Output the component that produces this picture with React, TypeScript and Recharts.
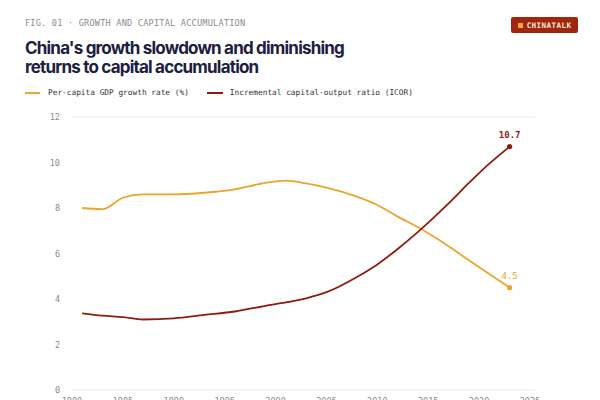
import React from 'react';
import { LineChart, Line, XAxis, YAxis, CartesianGrid, LabelList } from 'recharts';

const years = [1981, 1983, 1985, 1987, 1990, 1993, 1996, 1999, 2001, 2003, 2005, 2008, 2010, 2012, 2014, 2017, 2019, 2021, 2023];
const growthRate = [8.0, 7.95, 8.45, 8.6, 8.6, 8.67, 8.82, 9.1, 9.2, 9.08, 8.9, 8.5, 8.13, 7.62, 7.15, 6.32, 5.7, 5.1, 4.5];
const icor = [3.37, 3.27, 3.2, 3.1, 3.15, 3.3, 3.45, 3.7, 3.85, 4.03, 4.3, 4.97, 5.52, 6.2, 6.95, 8.2, 9.1, 9.95, 10.7];
const xTicks = [1980, 1985, 1990, 1995, 2000, 2005, 2010, 2015, 2020, 2025];
const yTicks = [0, 2, 4, 6, 8, 10, 12];

const ORANGE = '#eca42c';
const RED = '#8f1c10';
const MONO = '"DejaVu Sans Mono", "Liberation Mono", monospace';

const data = years.map((y, i) => ({ year: y, growth: growthRate[i], icor: icor[i] }));
const lastIdx = data.length - 1;

const EndDot = (color: string) => (props: any) => {
  if (props.index !== lastIdx) return <g key={props.index} />;
  return <circle key={props.index} cx={props.cx} cy={props.cy} r={2.6} fill={color} stroke="none" />;
};

const EndLabel = (color: string, bold: boolean) => (props: any) => {
  if (props.index !== lastIdx) return null;
  return (
    <text x={props.x} y={props.y - 9} textAnchor="middle" fill={color} fontFamily={MONO} fontSize={9} fontWeight={bold ? 700 : 400}>
      {props.value}
    </text>
  );
};

const tickStyle = { fill: '#8a8a8a', fontSize: 8.5, fontFamily: MONO };

export default function App() {
  return (
    <div style={{ position: 'fixed', left: 0, top: 0, width: 600, height: 400, background: '#fff', overflow: 'hidden' }}>
      <div style={{ position: 'absolute', left: 25, top: 18, fontFamily: MONO, fontSize: 8.6, color: '#8c8c8c', letterSpacing: 0.2, whiteSpace: 'nowrap' }}>
        FIG. 01 · GROWTH AND CAPITAL ACCUMULATION
      </div>
      <div style={{ position: 'absolute', left: 511, top: 17, width: 67, height: 16, background: '#a0260f', borderRadius: 2, display: 'flex', alignItems: 'center', justifyContent: 'center', gap: 4 }}>
        <div style={{ width: 5, height: 5, background: '#f2a93b' }} />
        <span style={{ fontFamily: MONO, fontSize: 7.6, fontWeight: 700, color: '#f7e9d6', letterSpacing: 0.4 }}>CHINATALK</span>
      </div>
      <div style={{ position: 'absolute', left: 25, top: 39, fontFamily: 'Inter, "Noto Sans", sans-serif', fontWeight: 700, fontSize: 17, lineHeight: '19px', color: '#1c2040', letterSpacing: -0.8, whiteSpace: 'nowrap' }}>
        China's growth slowdown and diminishing
        <br />
        returns to capital accumulation
      </div>
      <div style={{ position: 'absolute', left: 25, top: 88, display: 'flex', alignItems: 'center', fontFamily: MONO, fontSize: 7.8, color: '#333', whiteSpace: 'nowrap' }}>
        <div style={{ width: 15, height: 2, background: ORANGE, marginRight: 8 }} />
        <span>Per-capita GDP growth rate (%)</span>
        <div style={{ width: 16, height: 2, background: RED, marginLeft: 18, marginRight: 7 }} />
        <span>Incremental capital-output ratio (ICOR)</span>
      </div>
      <div style={{ position: 'absolute', left: 0, top: 0 }}>
        <LineChart width={600} height={400} data={data} margin={{ top: 117, left: 42, right: 35, bottom: 0 }}>
          <CartesianGrid vertical={false} stroke="#efebe0" strokeWidth={1} />
          <XAxis
            dataKey="year"
            type="number"
            domain={[1980, 2025]}
            ticks={xTicks}
            axisLine={false}
            tickLine={false}
            tick={tickStyle}
            height={10}
            padding={{ left: 0, right: 5 }}
          />
          <YAxis
            yAxisId="left"
            orientation="left"
            domain={[0, 12]}
            ticks={yTicks}
            axisLine={false}
            tickLine={false}
            tick={tickStyle}
            width={30}
            tickMargin={6}
          />
          <YAxis
            yAxisId="right"
            orientation="right"
            domain={[0, 12]}
            ticks={yTicks}
            axisLine={false}
            tickLine={false}
            tick={{ ...tickStyle, textAnchor: 'start' }}
            width={30}
            tickSize={2}
            tickMargin={1}
          />
          <Line
            yAxisId="left"
            type="monotone"
            dataKey="growth"
            stroke={ORANGE}
            strokeWidth={1.8}
            dot={EndDot(ORANGE)}
            activeDot={false}
            isAnimationActive={false}
          >
            <LabelList dataKey="growth" content={EndLabel(ORANGE, false)} />
          </Line>
          <Line
            yAxisId="left"
            type="monotone"
            dataKey="icor"
            stroke={RED}
            strokeWidth={1.8}
            dot={EndDot(RED)}
            activeDot={false}
            isAnimationActive={false}
          >
            <LabelList dataKey="icor" content={EndLabel(RED, true)} />
          </Line>
        </LineChart>
      </div>
    </div>
  );
}
